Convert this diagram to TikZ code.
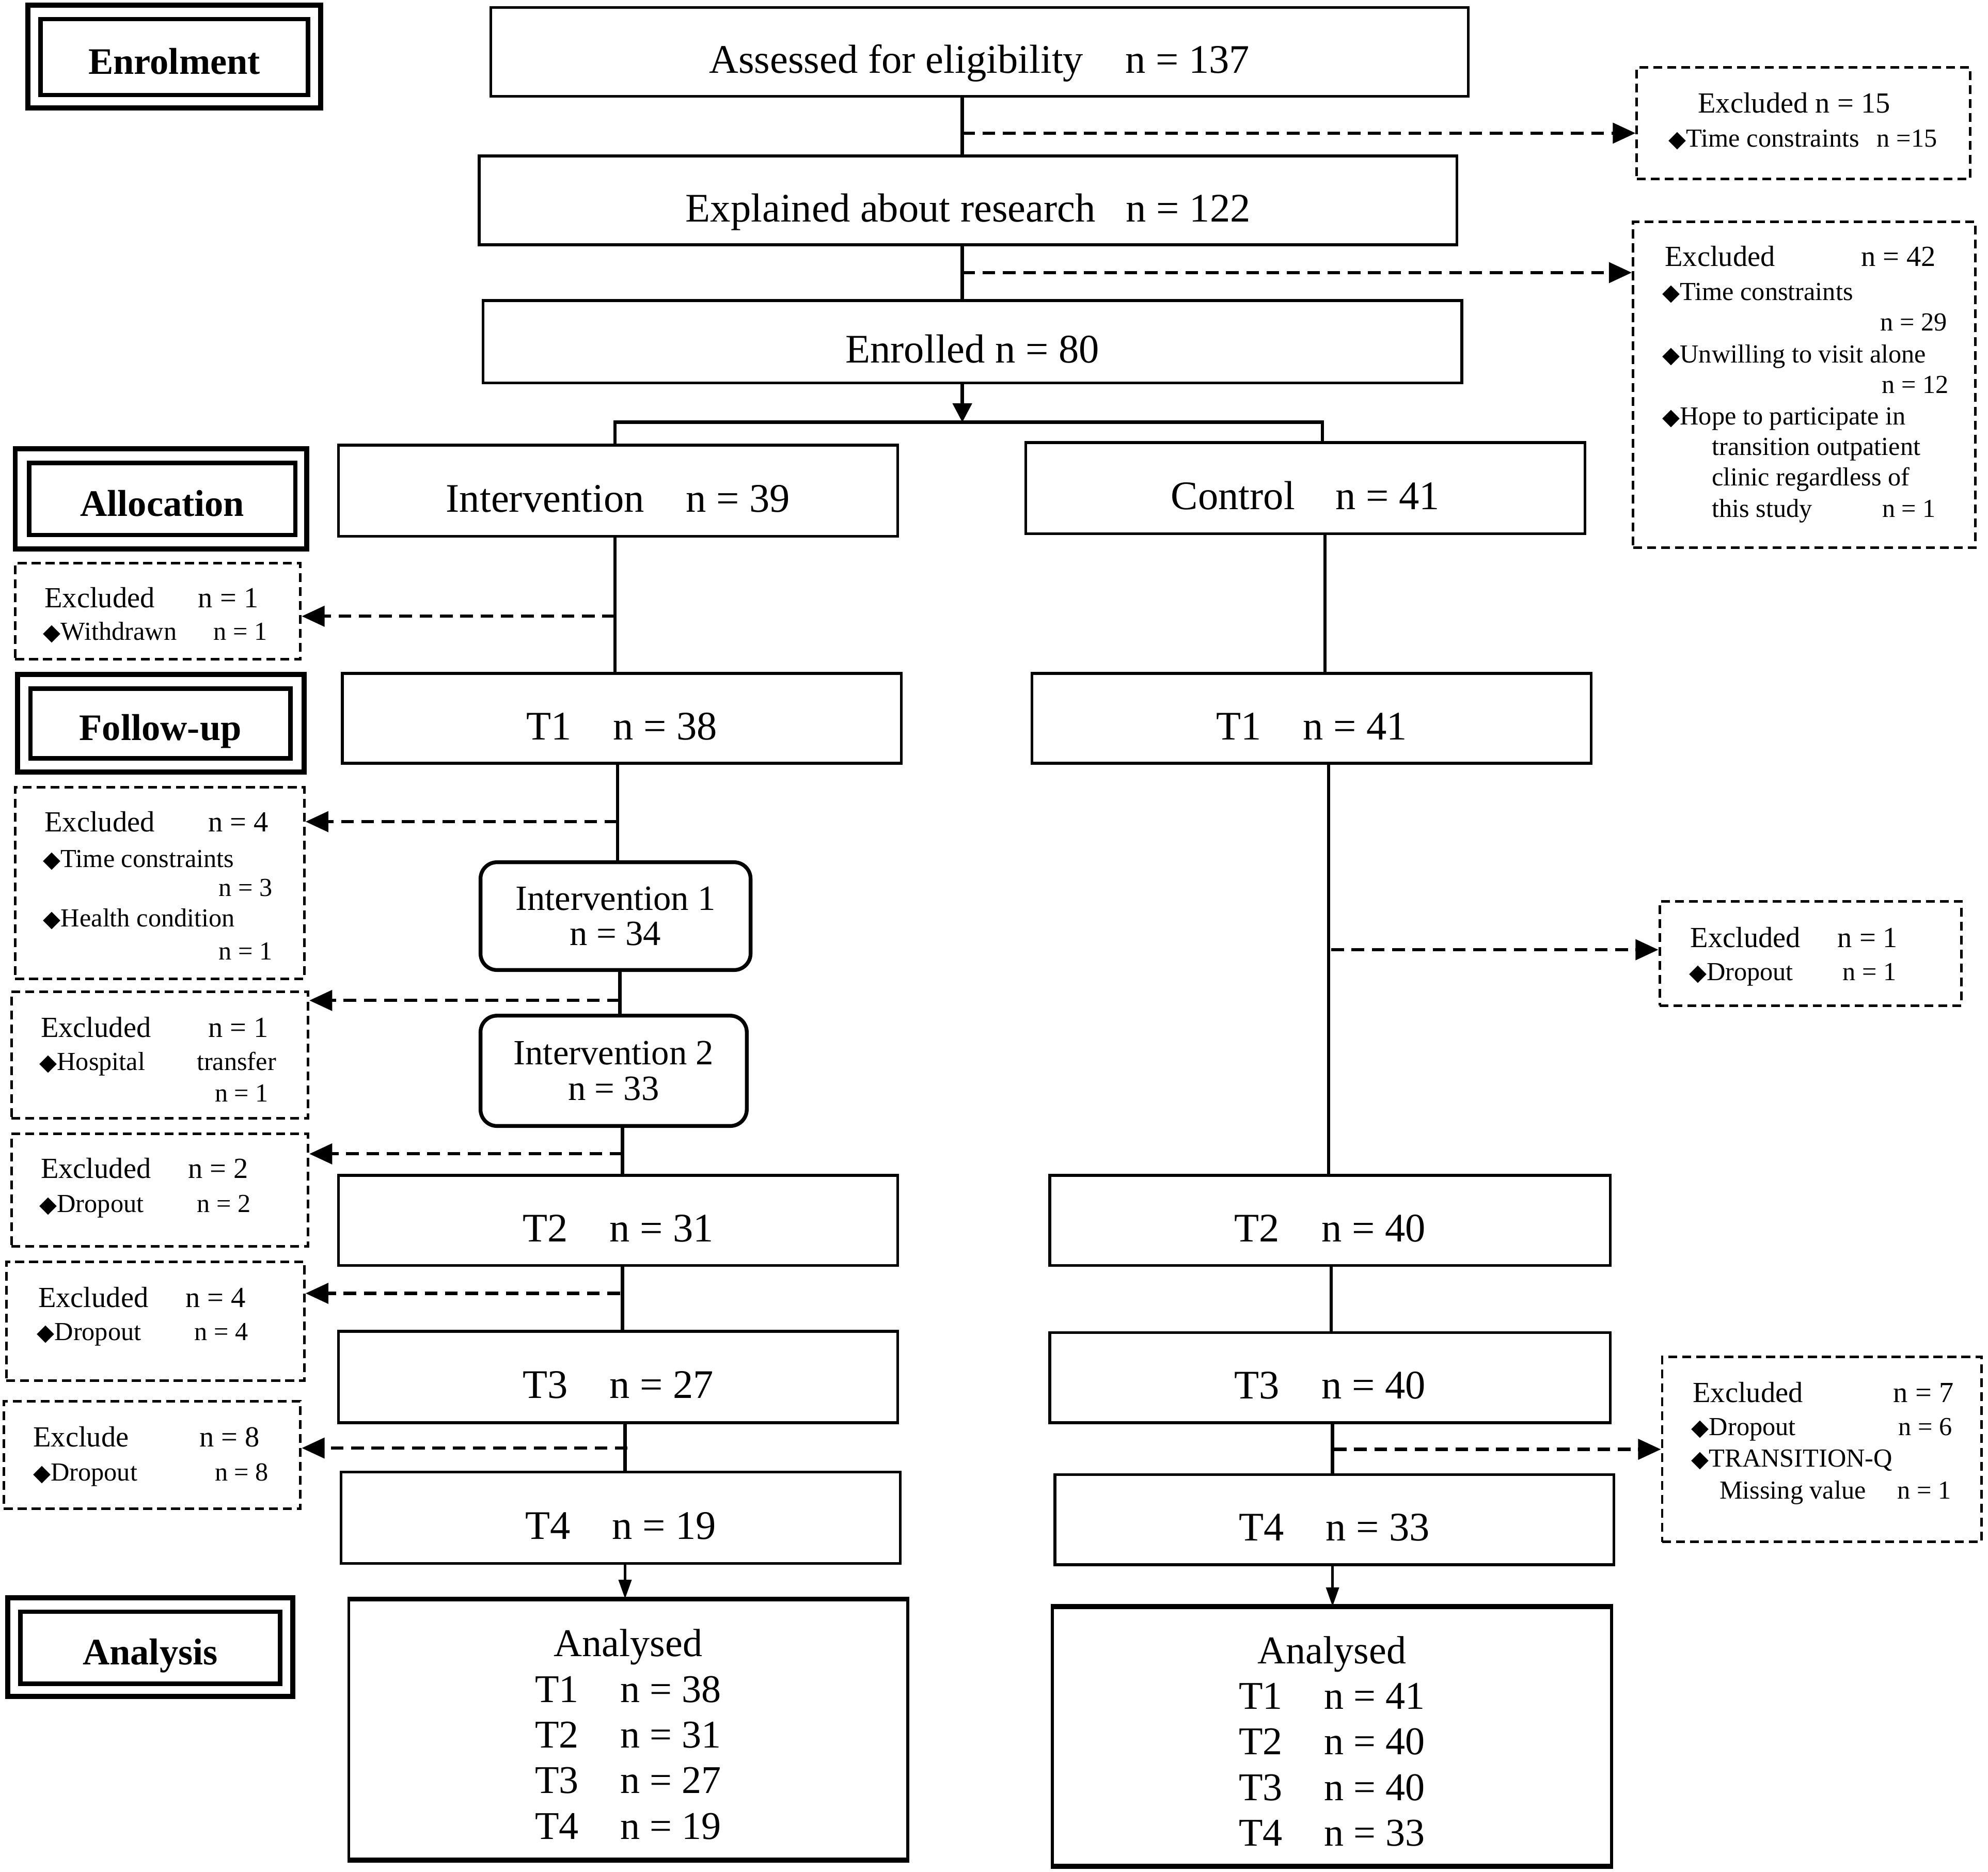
\documentclass[tikz,border=0pt]{standalone}
\usepackage{fontspec}
\setmainfont{Liberation Serif}
\newfontfamily\symfont{DejaVu Sans}
\usetikzlibrary{arrows.meta,calc}
\newcommand{\dm}{{\symfont\fontsize{18}{18}\selectfont ◆}}
% \BX{style}{name}{x1}{y1}{x2}{y2}{text}
\newcommand{\BX}[7]{%
  \pgfmathsetmacro\bxw{#5-#3}\pgfmathsetmacro\bxh{#6-#4}%
  \pgfmathsetmacro\bxx{(#3+#5)/2}\pgfmathsetmacro\bxy{(#4+#6)/2}%
  \node[#1, minimum width=\bxw pt, minimum height=\bxh pt] (#2) at (\bxx,\bxy) {#7};}
\begin{document}
\begin{tikzpicture}[x=1pt,y=-1pt,
  box/.style={draw, line width=2.2pt, inner sep=0pt, text height=33.5pt, text depth=0pt, font=\fontsize{32}{36}\selectfont},
  rbox/.style={draw, line width=3pt, rounded corners=13pt, inner sep=0pt, align=center, font=\fontsize{28}{28}\selectfont},
  dbox/.style={draw, line width=2pt, dash pattern=on 7pt off 4pt, inner sep=0pt},
  obox/.style={draw, line width=4pt, inner sep=0pt},
  ibox/.style={draw, line width=3.5pt, inner sep=0pt, text height=27pt, text depth=0pt, font=\fontsize{29.5}{30}\selectfont\bfseries},
  abox/.style={draw, line width=2.2pt, inner sep=0pt, align=center, font=\fontsize{31}{36}\selectfont},
  tA/.style={inner sep=0pt, anchor=base west, font=\fontsize{23}{23}\selectfont},
  tAe/.style={tA, anchor=base east},
  tB/.style={inner sep=0pt, anchor=base west, font=\fontsize{20.5}{21}\selectfont},
  tBe/.style={tB, anchor=base east},
  conn/.style={line width=2.6pt},
  darrow/.style={line width=2.5pt, dash pattern=on 10pt off 6pt, -{Triangle[length=18pt,width=16pt]}},
  sarrow/.style={line width=2pt, -{Triangle[length=15pt,width=10pt]}},
]
\useasboundingbox (0,0) rectangle (1568,1476);

% ---------- stage labels ----------
\BX{obox}{enrO}{22}{4}{253}{85}{}
\BX{ibox}{enrI}{32}{15}{243}{75}{Enrolment}
\BX{obox}{allO}{12}{354}{242}{433}{}
\BX{ibox}{allI}{23}{365}{233}{422}{Allocation}
\BX{obox}{folO}{14}{532}{240}{609}{}
\BX{ibox}{folI}{24}{543}{229}{598}{Follow-up}
\BX{obox}{anaO}{6}{1260}{231}{1338}{}
\BX{ibox}{anaI}{16}{1271}{221}{1328}{Analysis}

% ---------- enrolment ----------
\BX{box}{ass}{387}{6}{1158}{76}{Assessed for eligibility\hspace{33pt}n = 137}
\BX{box}{exp}{378}{123}{1149}{193}{Explained about research\hspace{24pt}n = 122}
\BX{box}{enr}{381}{237}{1153}{302}{Enrolled n = 80}

\BX{dbox}{ex15}{1291}{53}{1554}{141}{}
\node[tA] at (1339,89) {Excluded n = 15};
\node[tB] at (1316,116) {\dm Time constraints};
\node[tBe] at (1528,116) {n =15};

\BX{dbox}{ex42}{1288}{175}{1558}{432}{}
\node[tA] at (1313,210) {Excluded};
\node[tAe] at (1527,210) {n = 42};
\node[tB] at (1311,237) {\dm Time constraints};
\node[tBe] at (1536,261) {n = 29};
\node[tB] at (1311,286) {\dm Unwilling to visit alone};
\node[tBe] at (1537,310) {n = 12};
\node[tB] at (1311,335) {\dm Hope to participate in};
\node[tB] at (1350,359) {transition outpatient};
\node[tB] at (1350,383) {clinic regardless of};
\node[tB] at (1350,408) {this study};
\node[tBe] at (1527,408) {n = 1};

\coordinate (spT) at (759,0);
\draw[conn] (ass.south -| spT) -- (exp.north -| spT);
\draw[conn] (exp.south -| spT) -- (enr.north -| spT);
\coordinate (d1) at (759,105);
\coordinate (d2) at (759,215);
\draw[darrow] (d1) -- (d1 -| ex15.west);
\draw[darrow] (d2) -- (d2 -| ex42.west);

% ---------- allocation ----------
\BX{box}{intv}{267}{351}{708}{423}{Intervention\hspace{33pt}n = 39}
\BX{box}{ctrl}{809}{349}{1250}{421}{Control\hspace{32pt}n = 41}
\coordinate (split) at (759,333);
\coordinate (splL) at (485,333);
\coordinate (splR) at (1043,333);
\draw[conn, -{Triangle[length=15pt,width=15pt]}] (enr.south -| spT) -- (split);
\draw[conn] (intv.north -| splL) -- (splL) -- (splR) -- (ctrl.north -| splR);

% ---------- follow-up, intervention arm ----------
\BX{box}{t1l}{270}{531}{711}{602}{T1\hspace{33pt}n = 38}
\BX{rbox}{iv1}{379}{680}{592}{765}{Intervention 1\\n = 34}
\BX{rbox}{iv2}{379}{801}{589}{888}{Intervention 2\\n = 33}
\BX{box}{t2l}{267}{927}{708}{998}{T2\hspace{33pt}n = 31}
\BX{box}{t3l}{267}{1050}{708}{1122}{T3\hspace{33pt}n = 27}
\BX{box}{t4l}{269}{1161}{710}{1233}{T4\hspace{33pt}n = 19}
\BX{abox}{anl}{275}{1262}{716}{1466}{\rule{0pt}{29pt}Analysed\\T1\hspace{33pt}n = 38\\T2\hspace{33pt}n = 31\\T3\hspace{33pt}n = 27\\T4\hspace{33pt}n = 19}
\draw[line width=3.5pt] (anl.north west) -- (anl.north east);
\draw[line width=3.5pt] (anl.south west) -- (anl.south east);

\coordinate (xa) at (485,0);
\coordinate (xb) at (487,0);
\coordinate (xc) at (489,0);
\coordinate (xd) at (491,0);
\coordinate (xe) at (493,0);
\draw[conn] (intv.south -| xa) -- (t1l.north -| xa);
\draw[conn] (t1l.south -| xb) -- (iv1.north -| xb);
\draw[conn] (iv1.south -| xc) -- (iv2.north -| xc);
\draw[conn] (iv2.south -| xd) -- (t2l.north -| xd);
\draw[conn] (t2l.south -| xd) -- (t3l.north -| xd);
\draw[conn] (t3l.south -| xe) -- (t4l.north -| xe);
\draw[sarrow] (t4l.south -| xe) -- (anl.north -| xe);

% left exclusion boxes
\BX{dbox}{exA}{12}{444}{237}{520}{}
\node[tA] at (35,479) {Excluded};
\node[tAe] at (204,479) {n = 1};
\node[tB] at (34,505) {\dm Withdrawn};
\node[tBe] at (211,505) {n = 1};

\BX{dbox}{exB}{12}{621}{240}{772}{}
\node[tA] at (35,656) {Excluded};
\node[tAe] at (212,656) {n = 4};
\node[tB] at (34,684) {\dm Time constraints};
\node[tBe] at (215,707) {n = 3};
\node[tB] at (34,731) {\dm Health condition};
\node[tBe] at (215,757) {n = 1};

\BX{dbox}{exC}{9}{782}{243}{882}{}
\node[tA] at (32,818) {Excluded};
\node[tAe] at (212,818) {n = 1};
\node[tB] at (31,844) {\dm Hospital};
\node[tBe] at (218,844) {transfer};
\node[tBe] at (212,869) {n = 1};

\BX{dbox}{exD}{9}{894}{243}{983}{}
\node[tA] at (32,929) {Excluded};
\node[tAe] at (196,929) {n = 2};
\node[tB] at (31,956) {\dm Dropout};
\node[tBe] at (198,956) {n = 2};

\BX{dbox}{exE}{5}{995}{240}{1089}{}
\node[tA] at (30,1031) {Excluded};
\node[tAe] at (194,1031) {n = 4};
\node[tB] at (29,1057) {\dm Dropout};
\node[tBe] at (196,1057) {n = 4};

\BX{dbox}{exF}{3}{1105}{237}{1190}{}
\node[tA] at (26,1141) {Exclude};
\node[tAe] at (205,1141) {n = 8};
\node[tB] at (26,1168) {\dm Dropout};
\node[tBe] at (212,1168) {n = 8};

\coordinate (la) at (485,486);
\coordinate (lb) at (487,648);
\coordinate (lc) at (489,789);
\coordinate (ld) at (491,910);
\coordinate (le) at (489,1020);
\coordinate (lf) at (495,1142);
\draw[darrow] (la) -- (la -| exA.east);
\draw[darrow] (lb) -- (lb -| exB.east);
\draw[darrow] (lc) -- (lc -| exC.east);
\draw[darrow] (ld) -- (ld -| exD.east);
\draw[darrow] (le) -- (le -| exE.east);
\draw[darrow] (lf) -- (lf -| exF.east);

% ---------- follow-up, control arm ----------
\BX{box}{t1r}{814}{531}{1255}{602}{T1\hspace{33pt}n = 41}
\BX{box}{t2r}{828}{927}{1270}{998}{T2\hspace{33pt}n = 40}
\BX{box}{t3r}{828}{1051}{1270}{1122}{T3\hspace{33pt}n = 40}
\BX{box}{t4r}{832}{1163}{1273}{1234}{T4\hspace{33pt}n = 33}
\BX{abox}{anr}{830}{1268}{1271}{1471}{\rule{0pt}{29pt}Analysed\\T1\hspace{33pt}n = 41\\T2\hspace{33pt}n = 40\\T3\hspace{33pt}n = 40\\T4\hspace{33pt}n = 33}
\draw[line width=3.5pt] (anr.north west) -- (anr.north east);
\draw[line width=3.5pt] (anr.south west) -- (anr.south east);

\coordinate (ya) at (1045,0);
\coordinate (yb) at (1048,0);
\coordinate (yc) at (1050,0);
\coordinate (yd) at (1051,0);
\draw[conn] (ctrl.south -| ya) -- (t1r.north -| ya);
\draw[conn] (t1r.south -| yb) -- (t2r.north -| yb);
\draw[conn] (t2r.south -| yc) -- (t3r.north -| yc);
\draw[conn] (t3r.south -| yd) -- (t4r.north -| yd);
\draw[sarrow] (t4r.south -| yd) -- (anr.north -| yd);

\BX{dbox}{exG}{1309}{711}{1547}{793}{}
\node[tA] at (1333,747) {Excluded};
\node[tAe] at (1497,747) {n = 1};
\node[tB] at (1332,773) {\dm Dropout};
\node[tBe] at (1496,773) {n = 1};

\BX{dbox}{exH}{1311}{1070}{1563}{1216}{}
\node[tA] at (1335,1106) {Excluded};
\node[tAe] at (1541,1106) {n = 7};
\node[tB] at (1334,1132) {\dm Dropout};
\node[tBe] at (1540,1132) {n = 6};
\node[tB] at (1334,1157) {\dm TRANSITION-Q};
\node[tB] at (1356,1182) {Missing value};
\node[tBe] at (1539,1182) {n = 1};

\coordinate (ra) at (1050,749);
\coordinate (rb) at (1052,1143);
\draw[darrow] (ra) -- (ra -| exG.west);
\draw[darrow] (rb) -- (rb -| exH.west);
\end{tikzpicture}
\end{document}
